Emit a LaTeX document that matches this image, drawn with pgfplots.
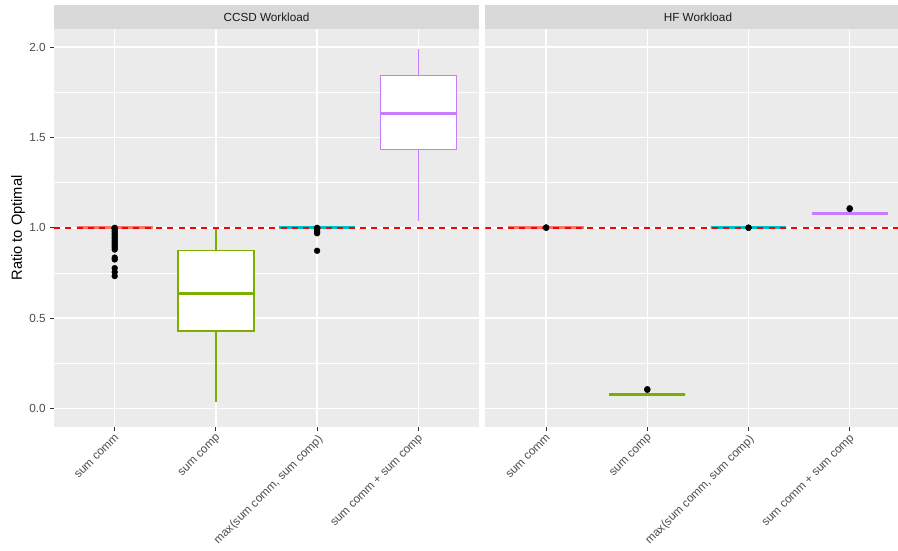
\documentclass[border=0pt]{standalone}
\usepackage{pgfplots}
\pgfplotsset{compat=1.18}
\usepgfplotslibrary{statistics}
\usepackage{fontspec}
\setmainfont{Liberation Sans}
\definecolor{cR}{HTML}{F8766D}
\definecolor{cG}{HTML}{7CAE00}
\definecolor{cC}{HTML}{00BFC4}
\definecolor{cP}{HTML}{C77CFF}
\definecolor{panelbg}{HTML}{EBEBEB}
\definecolor{stripbg}{HTML}{D9D9D9}
\definecolor{tickgray}{HTML}{4D4D4D}
\definecolor{gray20}{HTML}{333333}
\definecolor{gray10}{HTML}{1A1A1A}
\pgfplotsset{
  ggpanel/.style={
    width=318.75pt, height=298.5pt, scale only axis,
    xmin=0.4, xmax=4.6, ymin=-0.102, ymax=2.1,
    axis background/.style={fill=panelbg},
    axis line style={draw=none},
    xtick={1,2,3,4},
    xticklabels={sum comm, sum comp, {max(sum comm, sum comp)}, sum comm + sum comp},
    ytick={0,0.5,1,1.5,2},
    minor ytick={0.25,0.75,1.25,1.75},
    xmajorgrids, ymajorgrids, yminorgrids,
    major grid style={white, line width=1.07pt},
    minor grid style={white, line width=0.53pt},
    tick align=outside, major tick length=2.75pt, minor tick length=0pt,
    tick style={gray20, line width=0.8pt},
    tick pos=left,
    tick label style={font=\fontsize{8.8}{10}\selectfont, text=tickgray},
    xticklabel style={rotate=45, anchor=north east, inner sep=1.5pt},
    boxplot/draw direction=y,
    boxplot/box extend=0.75,
    boxplot/whisker extend=0,
    boxplot/every median/.style={line width=2.13pt},
  },
  ggbox/.style={draw=#1, fill=white, line width=1.07pt, mark=*, mark size=2.2pt,
    mark options={draw=black, fill=black, line width=0.3pt}},
  gghline/.style={red, line width=1.5pt, dash pattern=on 4.5pt off 4pt, forget plot},
}
\begin{document}
\begin{tikzpicture}[x=0.75pt,y=0.75pt]
\path[use as bounding box, clip] (0,0) rectangle (898,550);
\fill[white] (0,0) rectangle (898,550);
% CCSD panel
\begin{axis}[ggpanel, at={(40.5pt,92.25pt)}, anchor=south west,
  yticklabels={0.0,0.5,1.0,1.5,2.0}]
\addplot[ggbox=cR, boxplot prepared={draw position=1, lower whisker=1, lower quartile=1, median=1, upper quartile=1, upper whisker=1}]
  table[row sep=\\, y index=0] {data\\1.0\\0.99\\0.98\\0.97\\0.96\\0.95\\0.94\\0.93\\0.92\\0.91\\0.90\\0.89\\0.88\\0.835\\0.825\\0.777\\0.755\\0.733\\};
\addplot[ggbox=cG, boxplot prepared={draw position=2, lower whisker=0.036, lower quartile=0.43, median=0.635, upper quartile=0.873, upper whisker=1.0}]
  coordinates {};
\addplot[ggbox=cC, boxplot prepared={draw position=3, lower whisker=1, lower quartile=1, median=1, upper quartile=1, upper whisker=1}]
  table[row sep=\\, y index=0] {data\\1.0\\0.995\\0.99\\0.98\\0.975\\0.97\\0.873\\};
\addplot[ggbox=cP, boxplot prepared={draw position=4, lower whisker=1.039, lower quartile=1.432, median=1.631, upper quartile=1.842, upper whisker=1.988}]
  coordinates {};
\addplot[gghline] coordinates {(0.4,1) (4.6,1)};
\end{axis}
% HF panel
\begin{axis}[ggpanel, at={(364.05pt,92.25pt)}, anchor=south west,
  yticklabels={}, ytick style={draw=none}]
\addplot[ggbox=cR, boxplot prepared={draw position=1, lower whisker=1, lower quartile=1, median=1, upper quartile=1, upper whisker=1}]
  table[row sep=\\, y index=0] {data\\1.0\\1.002\\};
\addplot[ggbox=cG, boxplot prepared={draw position=2, lower whisker=0.0775, lower quartile=0.0775, median=0.0775, upper quartile=0.0775, upper whisker=0.0775}]
  table[row sep=\\, y index=0] {data\\0.104\\0.107\\};
\addplot[ggbox=cC, boxplot prepared={draw position=3, lower whisker=1, lower quartile=1, median=1, upper quartile=1, upper whisker=1}]
  table[row sep=\\, y index=0] {data\\1.0\\1.001\\};
\addplot[ggbox=cP, boxplot prepared={draw position=4, lower whisker=1.08, lower quartile=1.08, median=1.08, upper quartile=1.08, upper whisker=1.08}]
  table[row sep=\\, y index=0] {data\\1.104\\1.108\\};
\addplot[gghline] coordinates {(0.4,1) (4.6,1)};
\end{axis}
% strips
\fill[stripbg] (54,521) rectangle (479,545);
\node[font=\fontsize{8.8}{10}\selectfont, text=gray10] at (266.5,533) {CCSD Workload};
\fill[stripbg] (485.4,521) rectangle (910.4,545);
\node[font=\fontsize{8.8}{10}\selectfont, text=gray10] at (697.9,533) {HF Workload};
% y label
\node[rotate=90, font=\fontsize{11}{13}\selectfont, text=black] at (18,322) {Ratio to Optimal};
\end{tikzpicture}
\end{document}
